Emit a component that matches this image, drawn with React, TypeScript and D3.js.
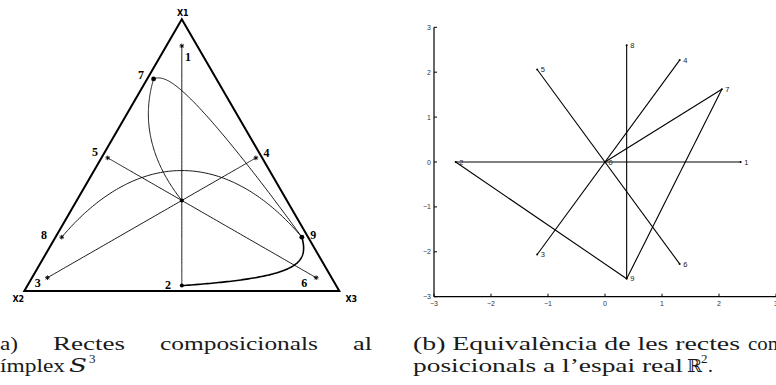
import React from 'react';
import * as d3 from 'd3';

// ---------- Data ----------
// (a) points of the simplex S^3, stored by their ilr coordinates (z1, z2)
const simplexLabels = ['', '1', '2', '3', '4', '5', '6', '7', '8', '9'];
const simplexZ1 = [0, 2.38, -2.62, -1.19, 1.31, 1.31, -1.19, 2.05, 0.38, 0.38];
const simplexZ2 = [0, 0, 0, 2.06, -2.27, 2.27, -2.06, 1.62, 2.6, -2.6];
// compositional lines between labelled points ('' = barycentre)
const simplexSegments: [string, string][] = [
  ['1', '2'], ['3', '4'], ['5', '6'], ['8', '9'], ['', '7'], ['7', '9'], ['2', '9'],
];
const vertexLabels = ['X1', 'X2', 'X3'];

// (b) the same lines in the real plane R^2
const planeLabels = ['0', '1', '2', '3', '4', '5', '6', '7', '8', '9'];
const planeX = [0, 2.38, -2.62, -1.19, 1.31, -1.19, 1.31, 2.05, 0.38, 0.38];
const planeY = [0, 0, 0, -2.06, 2.27, 2.06, -2.27, 1.62, 2.6, -2.6];
const planeSegments: [string, string][] = [
  ['2', '1'], ['3', '4'], ['5', '6'], ['8', '9'], ['0', '7'], ['7', '9'], ['2', '9'],
];
const planeTicks = [-3, -2, -1, 0, 1, 2, 3];

// ---------- Geometry helpers ----------
// inverse isometric log-ratio transform -> closed composition (x1, x2, x3)
function ilrInv(z1: number, z2: number): [number, number, number] {
  const a = z1 / Math.sqrt(2 / 3);
  const b = z2 * Math.SQRT2;
  const x1 = Math.exp(a + b / 2);
  const x2 = Math.exp(b);
  const x3 = 1;
  const s = x1 + x2 + x3;
  return [x1 / s, x2 / s, x3 / s];
}

// ternary layout scales
const triX = d3.scaleLinear().domain([0, 1]).range([24.3, 339.3]);
const triY = d3.scaleLinear().domain([0, 1]).range([291, 19.3]);
function ternary([x1, , x3]: [number, number, number]): [number, number] {
  return [triX(x3 + x1 / 2), triY(x1)];
}

// label placement (offset of each label centre from its point)
const simplexLabelOffset: Record<string, [number, number]> = {
  '1': [6.3, 11.3], '2': [-13.7, -0.7], '3': [-9.7, 5.7], '4': [10.7, -5.3],
  '5': [-12.7, -6.3], '6': [-12, 5.3], '7': [-12.7, -4.3], '8': [-17.7, -2.3], '9': [11.3, -2.4],
};
const dotPoints = new Set(['', '2', '7', '9']);

// plane scales
const px = d3.scaleLinear().domain([-3, 3]).range([434, 776]);
const py = d3.scaleLinear().domain([-3, 3]).range([296.7, 27.3]);

function Star({ x, y }: { x: number; y: number }) {
  const r = 2.3;
  const d = r * 0.72;
  return (
    <path
      d={`M${x - r},${y}H${x + r}M${x},${y - r}V${y + r}M${x - d},${y - d}L${x + d},${y + d}M${x - d},${y + d}L${x + d},${y - d}`}
      stroke="#000"
      strokeWidth={0.9}
    />
  );
}

function SimplexPanel() {
  const idx = (l: string) => simplexLabels.indexOf(l);
  const pt = (l: string) => ternary(ilrInv(simplexZ1[idx(l)], simplexZ2[idx(l)]));
  const line = d3.line<[number, number]>();
  const curves = simplexSegments.map(([a, b]) => {
    const ia = idx(a), ib = idx(b);
    const n = 120;
    const pts: [number, number][] = d3.range(n + 1).map((k) => {
      const t = k / n;
      const z1 = simplexZ1[ia] + (simplexZ1[ib] - simplexZ1[ia]) * t;
      const z2 = simplexZ2[ia] + (simplexZ2[ib] - simplexZ2[ia]) * t;
      return ternary(ilrInv(z1, z2));
    });
    return { key: a + '-' + b, d: line(pts) || '', heavy: a === '2' && b === '9' };
  });
  const A: [number, number] = [triX(0.5), triY(1)];
  const B: [number, number] = [triX(0), triY(0)];
  const C: [number, number] = [triX(1), triY(0)];
  return (
    <g>
      <path d={`M${A[0]},${A[1]}L${B[0]},${B[1]}L${C[0]},${C[1]}Z`} fill="none" stroke="#000" strokeWidth={2} strokeLinejoin="miter" />
      {curves.map((c) => (
        <path key={c.key} d={c.d} fill="none" stroke="#000" strokeWidth={c.heavy ? 1.6 : 0.9} />
      ))}
      {simplexLabels.map((l) => {
        const [x, y] = pt(l);
        return dotPoints.has(l) ? (
          <circle key={'m' + l} cx={x} cy={y} r={l === '' || l === '2' ? 2 : 2.4} fill="#000" />
        ) : (
          <Star key={'m' + l} x={x} y={y} />
        );
      })}
      {simplexLabels.filter((l) => l !== '').map((l) => {
        const [x, y] = pt(l);
        const [dx, dy] = simplexLabelOffset[l];
        return (
          <text key={'t' + l} x={x + dx} y={y + dy + 4} textAnchor="middle" fontFamily="Liberation Serif" fontWeight="bold" fontSize={12}>
            {l}
          </text>
        );
      })}
      <g fontFamily="DejaVu Sans" fontWeight="bold" fontSize={8} textAnchor="middle">
        <text x={A[0] + 1} y={A[1] - 3}>{vertexLabels[0]}</text>
        <text x={B[0] - 6} y={B[1] + 11}>{vertexLabels[1]}</text>
        <text x={C[0] + 12} y={C[1] + 11}>{vertexLabels[2]}</text>
      </g>
    </g>
  );
}

function PlanePanel() {
  const idx = (l: string) => planeLabels.indexOf(l);
  const P = (l: string): [number, number] => [px(planeX[idx(l)]), py(planeY[idx(l)])];
  const tickFont = { fontFamily: 'Liberation Sans', fontSize: 7, fill: '#333' };
  return (
    <g>
      {planeSegments.map(([a, b]) => {
        const [x1, y1] = P(a);
        const [x2, y2] = P(b);
        return <line key={a + b} x1={x1} y1={y1} x2={x2} y2={y2} stroke="#000" strokeWidth={1.1} />;
      })}
      {planeLabels.map((l) => {
        const [x, y] = P(l);
        return (
          <g key={'p' + l}>
            <circle cx={x} cy={y} r={1} fill="#000" />
            <text x={x + 3.5} y={y + 2.6} {...tickFont} fill="#222" fontSize={7.5}>
              {l}
            </text>
          </g>
        );
      })}
      {/* axes */}
      <line x1={px(-3)} y1={py(3)} x2={px(-3)} y2={py(-3)} stroke="#000" strokeWidth={1.2} />
      <line x1={px(-3)} y1={py(-3)} x2={px(3)} y2={py(-3)} stroke="#000" strokeWidth={1.2} />
      {planeTicks.map((t) => (
        <g key={'y' + t}>
          <line x1={px(-3)} x2={px(-3) + 3} y1={py(t)} y2={py(t)} stroke="#000" strokeWidth={1} />
          <text x={px(-3) - 3} y={py(t) + 2.5} textAnchor="end" {...tickFont}>
            {t < 0 ? '\u2212' + Math.abs(t) : String(t)}
          </text>
        </g>
      ))}
      {planeTicks.map((t) => (
        <g key={'x' + t}>
          <line x1={px(t)} x2={px(t)} y1={py(-3)} y2={py(-3) - 3} stroke="#000" strokeWidth={1} />
          <text x={px(t)} y={py(-3) + 9} textAnchor="middle" {...tickFont}>
            {t < 0 ? '\u2212' + Math.abs(t) : String(t)}
          </text>
        </g>
      ))}
    </g>
  );
}

function Captions() {
  const cap = { fontFamily: 'Liberation Serif', fontSize: 19.5, fill: '#1a1a1a' };
  return (
    <g {...cap}>
      <text x={0} y={350} textLength={18} lengthAdjust="spacingAndGlyphs">a)</text>
      <text x={53} y={350} textLength={72} lengthAdjust="spacingAndGlyphs">Rectes</text>
      <text x={160} y={350} textLength={158} lengthAdjust="spacingAndGlyphs">composicionals</text>
      <text x={353} y={350} textLength={19} lengthAdjust="spacingAndGlyphs">al</text>
      <text x={0} y={372} textLength={65} lengthAdjust="spacingAndGlyphs">ímplex</text>
      <text x={69} y={372} fontStyle="italic" fontFamily="DejaVu Serif" fontSize={19} textLength={18} lengthAdjust="spacingAndGlyphs">S</text>
      <text x={89} y={363} fontSize={13}>3</text>
      <text x={413} y={350} textLength={327} lengthAdjust="spacingAndGlyphs">(b) Equivalència de les rectes</text>
      <text x={748} y={350} textLength={36} lengthAdjust="spacingAndGlyphs">com</text>
      <text x={413} y={372} textLength={270} lengthAdjust="spacingAndGlyphs">posicionals a l’espai real</text>
      <text x={687} y={372} fontFamily="DejaVu Serif" fontSize={18}>ℝ</text>
      <text x={701} y={363} fontSize={13}>2</text>
      <text x={708} y={372}>.</text>
    </g>
  );
}

export default function App() {
  return (
    <svg width={776} height={385} viewBox="0 0 776 385" style={{ position: 'absolute', left: 0, top: 0, background: '#fff' }}>
      <rect width={776} height={385} fill="#fff" />
      <SimplexPanel />
      <PlanePanel />
      <Captions />
    </svg>
  );
}
